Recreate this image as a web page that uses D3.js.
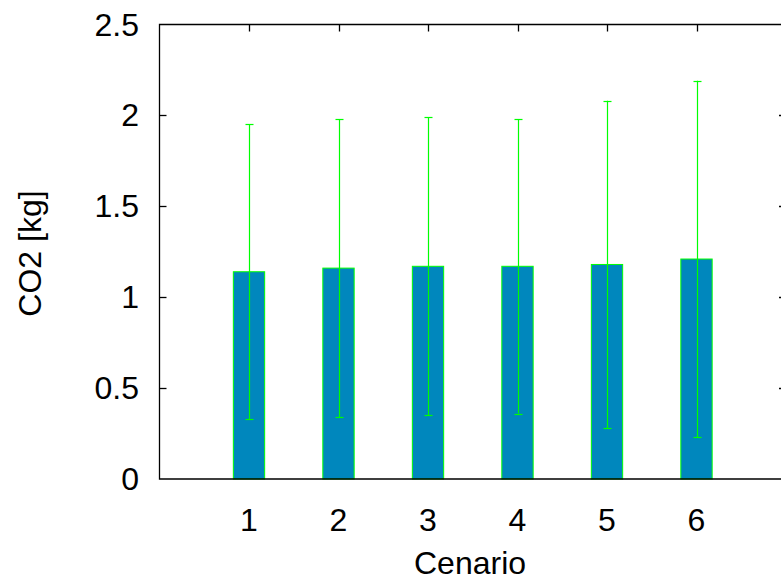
<!DOCTYPE html>
<html><head><meta charset="utf-8">
<script src="https://cdn.jsdelivr.net/npm/d3@7"></script>
<style>body{margin:0;background:#fff}svg{display:block}text{font-family:"Liberation Sans",Arial,sans-serif;fill:#000}</style>
</head><body>
<script>
const categories = [1, 2, 3, 4, 5, 6];
const means = [1.14, 1.16, 1.17, 1.17, 1.18, 1.21];
const lowErr = [0.33, 0.34, 0.35, 0.36, 0.28, 0.23];
const highErr = [1.95, 1.98, 1.99, 1.98, 2.08, 2.19];
const yTicks = [0, 0.5, 1, 1.5, 2, 2.5];
const xLabel = "Cenario";
const yLabel = "CO2 [kg]";

const W = 781, H = 581;
const L = 159.5, R = 786, T = 24.5, B = 479;
const FS = 32;
const svg = d3.select("body").append("svg").attr("width", W).attr("height", H);
const x = d3.scaleLinear().domain([0, 7]).range([L, R]);
const y = d3.scaleLinear().domain([0, 2.5]).range([B, T]);
const bw = x(0.35) - x(0);
const green = "#00ff00";

// bars
svg.selectAll("rect.bar").data(categories).enter().append("rect")
  .attr("x", (d) => x(d) - bw / 2).attr("width", bw)
  .attr("y", (d, i) => y(means[i])).attr("height", (d, i) => y(0) - y(means[i]))
  .attr("fill", "#0087bd").attr("stroke", green).attr("stroke-width", 1);

// error bars
const eb = svg.append("g").attr("stroke", green).attr("stroke-width", 1.2).attr("fill", "none");
categories.forEach((d, i) => {
  const cx = Math.round(x(d)) + 0.5;
  eb.append("line").attr("x1", cx).attr("x2", cx).attr("y1", y(lowErr[i])).attr("y2", y(highErr[i]));
  [lowErr[i], highErr[i]].forEach(v => {
    eb.append("line").attr("x1", cx - 4).attr("x2", cx + 4).attr("y1", Math.round(y(v)) + 0.5).attr("y2", Math.round(y(v)) + 0.5);
  });
});

// axes / border
const ax = svg.append("g").attr("stroke", "#000").attr("stroke-width", 1.3).attr("fill", "none");
ax.append("path").attr("d", `M${R},${T}H${L}V${B}H${R}`);
ax.append("path").attr("d", `M${R},${T}V${B}`);
yTicks.forEach(v => {
  if (v === 0 || v === 2.5) return;
  const yy = Math.round(y(v)) + 0.5;
  ax.append("line").attr("x1", L).attr("x2", L + 7).attr("y1", yy).attr("y2", yy);
  ax.append("line").attr("x1", R).attr("x2", R - 7).attr("y1", yy).attr("y2", yy);
});
categories.forEach(d => {
  const xx = Math.round(x(d)) + 0.5;
  ax.append("line").attr("x1", xx).attr("x2", xx).attr("y1", T).attr("y2", T + 7);
});

// tick labels
svg.selectAll("text.yt").data(yTicks).enter().append("text")
  .attr("x", 139).attr("y", d => y(d) + 11)
  .attr("text-anchor", "end").attr("font-size", FS).text(d => d);
svg.selectAll("text.xt").data(categories).enter().append("text")
  .attr("x", d => x(d)).attr("y", 531)
  .attr("text-anchor", "middle").attr("font-size", FS).text(d => d);

svg.append("text").attr("x", 470).attr("y", 574)
  .attr("text-anchor", "middle").attr("font-size", FS).text(xLabel);
svg.append("text").attr("transform", `translate(41,253.5) rotate(-90)`)
  .attr("text-anchor", "middle").attr("font-size", FS).text(yLabel);
</script>
</body></html>
